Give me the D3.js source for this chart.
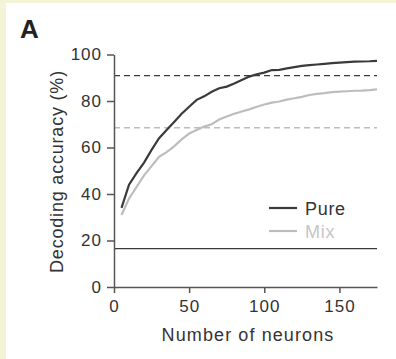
<!DOCTYPE html>
<html>
<head>
<meta charset="utf-8">
<script src="https://cdn.jsdelivr.net/npm/d3@7"></script>
<style>
  body { margin: 0; background: #f3f3d5; }
  svg { display: block; }
  text { font-family: "Liberation Sans", Arial, sans-serif; }
</style>
</head>
<body>
<svg id="chart" width="396" height="359"></svg>
<script>
// number of neurons sampled
var neurons = [5, 10, 15, 20, 25, 30, 35, 40, 45, 50, 55, 60, 65, 70, 75, 80, 85, 90,
    95, 100, 105, 110, 115, 120, 125, 130, 135, 140, 145, 150, 155, 160, 165, 170, 175];
var pure = [34, 44, 49, 53.5, 59, 64, 67.5, 71, 74.5, 77.5, 80.5, 82, 84, 85.5, 86.2, 87.5, 89, 90.5,
    91.5, 92.2, 93.3, 93.4, 94, 94.6, 95.1, 95.4, 95.7, 96, 96.3, 96.5, 96.7, 96.9, 97, 97.1, 97.3];
var mix = [31, 38, 43, 48, 52, 56, 58, 60.5, 63.5, 66, 67.5, 69, 70, 72, 73.3, 74.5, 75.5, 76.4,
    77.5, 78.5, 79.3, 79.8, 80.6, 81.2, 81.8, 82.6, 83.1, 83.4, 83.8, 84, 84.2, 84.4, 84.5, 84.7, 85];
var pureRef = 90.9;   // dashed dark line
var mixRef = 68.5;    // dashed light line
var chance = 16.5;    // solid line
var xTicks = [0, 50, 100, 150];
var yTicks = [0, 20, 40, 60, 80, 100];
var seriesNames = ["Pure", "Mix"];

var dark = "#3a3a3a", light = "#bdbdbd";

var svg = d3.select("#chart");

// white panel
svg.append("rect").attr("x", 6).attr("y", 3).attr("width", 390).attr("height", 356).attr("fill", "#fff");

var x = d3.scaleLinear().domain([0, 175]).range([114, 377]);
var y = d3.scaleLinear().domain([0, 100]).range([287, 54.5]);

// panel letter
svg.append("text").attr("x", 20).attr("y", 37.5).attr("font-size", 26).attr("font-weight", "bold")
    .attr("fill", "#222").text("A");

// reference lines
function hline(v, col, dash) {
    svg.append("line")
        .attr("x1", x(0)).attr("x2", x(175))
        .attr("y1", y(v)).attr("y2", y(v))
        .attr("stroke", col).attr("stroke-width", 1.4)
        .attr("stroke-dasharray", dash);
}
hline(pureRef, dark, "6,4");
hline(mixRef, light, "6,4");
hline(chance, dark, null);

var line = d3.line().x(function (d) { return x(d[0]); }).y(function (d) { return y(d[1]); });

svg.append("path")
    .attr("d", line(d3.zip(neurons, mix)))
    .attr("fill", "none").attr("stroke", light).attr("stroke-width", 2.2);
svg.append("path")
    .attr("d", line(d3.zip(neurons, pure)))
    .attr("fill", "none").attr("stroke", dark).attr("stroke-width", 2.2);

// axes
var xAxis = svg.append("g").attr("transform", "translate(0," + y(0) + ")")
    .call(d3.axisBottom(x).tickValues(xTicks).tickSize(6).tickPadding(7).tickSizeOuter(0));
var yAxis = svg.append("g").attr("transform", "translate(" + x(0) + ",0)")
    .call(d3.axisLeft(y).tickValues(yTicks).tickSize(7).tickPadding(5).tickSizeOuter(0));

[xAxis, yAxis].forEach(function (g) {
    g.select(".domain").attr("stroke", "#555").attr("stroke-width", 1.5);
    g.selectAll(".tick line").attr("stroke", "#555").attr("stroke-width", 1.5);
    g.selectAll(".tick text").attr("fill", "#333").attr("font-size", 17)
        .style("letter-spacing", "1px")
        .style("font-family", "'Liberation Sans', Arial, sans-serif");
});

// axis titles
svg.append("text").attr("x", 248).attr("y", 341).attr("text-anchor", "middle")
    .attr("font-size", 18).attr("fill", "#333").style("letter-spacing", "1.1px").text("Number of neurons");
svg.append("text").attr("transform", "translate(63,171.5) rotate(-90)").attr("text-anchor", "middle")
    .attr("font-size", 18).attr("fill", "#333").style("letter-spacing", "0.8px").text("Decoding accuracy (%)");

// legend
var legColors = [dark, light];
seriesNames.forEach(function (name, i) {
    var ly = 208 + i * 23;
    svg.append("line").attr("x1", 269).attr("x2", 297).attr("y1", ly).attr("y2", ly)
        .attr("stroke", legColors[i]).attr("stroke-width", 2.2);
    svg.append("text").attr("x", 305).attr("y", ly + 6.5).attr("font-size", 18)
        .attr("fill", i === 0 ? "#333" : "#c6c6c6").style("letter-spacing", "0.7px").text(name);
});
</script>
</body>
</html>
